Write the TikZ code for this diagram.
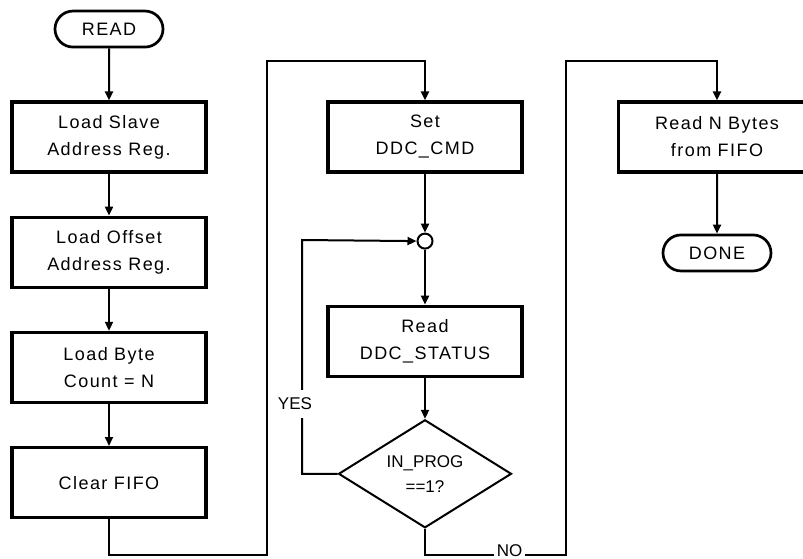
\documentclass[tikz,border=0pt]{standalone}
\usepackage{fontspec}
\newfontfamily\flowfont{Liberation Sans}[LetterSpace=8]
\newfontfamily\flowplain{Liberation Sans}
\usetikzlibrary{arrows.meta,positioning,shapes.geometric,shapes.misc}

\begin{document}
\begin{tikzpicture}[
  x=1pt, y=-1pt,
  stepbox/.style={draw, line width=3.2pt, align=center, inner sep=0pt, minimum width=194pt, minimum height=70pt, font=\flowfont\fontsize{18}{27}\selectfont},
  term/.style={draw, rounded rectangle, line width=2.7pt, inner sep=0pt, minimum width=108pt, minimum height=36pt, font=\flowfont\fontsize{18}{27}\selectfont},
  test/.style={draw, diamond, line width=2pt, aspect=1.6, inner sep=0pt, align=center, minimum width=173pt, minimum height=108pt, font=\flowplain\fontsize{17}{25}\selectfont},
  joint/.style={draw, circle, line width=2pt, inner sep=0pt, minimum size=15pt},
  lbl/.style={fill=white, inner xsep=3pt, inner ysep=0pt, font=\flowplain\fontsize{17}{20}\selectfont},
  arrow/.style={-{Triangle[length=9pt, width=8pt]}, line width=2pt}
]
\useasboundingbox (0,0) rectangle (803,559);
% left column
\node[stepbox] (slave) at (109,137) {Load Slave\\Address Reg.};
\node[term, above=52pt of slave] (read) {READ};
\node[stepbox, below=42pt of slave] (offset) {Load Offset\\Address Reg.};
\node[stepbox, below=42pt of offset] (count) {Load Byte\\Count = N};
\node[stepbox, below=42pt of count] (clear) {Clear FIFO};
% middle column
\node[stepbox] (setcmd) at (425,137) {Set\\DDC\_CMD};
\node[joint, below=59pt of setcmd] (join) {};
\node[stepbox, below=55pt of join] (status) {Read\\DDC\_STATUS};
\node[test, below=41pt of status] (inprog) {IN\_PROG\\==1?};
% right column
\node[stepbox, minimum width=197pt] (readn) at (717,137) {Read N Bytes\\from FIFO};
\node[term, below=60pt of readn] (done) {DONE};
% loop corners
\coordinate (lbot) at (267,555);
\coordinate (ltop) at (267,61);
\coordinate (ycorner) at (302,240);
\coordinate (rbot) at (566,555);
\coordinate (rtop) at (566,61);

\draw[arrow] (read) -- (slave);
\draw[arrow] (slave) -- (offset);
\draw[arrow] (offset) -- (count);
\draw[arrow] (count) -- (clear);
\draw[arrow] (clear.south) |- (lbot) -- (ltop) -| (setcmd.north);
\draw[arrow] (setcmd) -- (join);
\draw[arrow] (join) -- (status);
\draw[arrow] (status) -- (inprog);
\draw[arrow] (inprog.west) -| node[pos=0.65, lbl, inner ysep=8pt, xshift=-7pt] {YES} (ycorner) -- (join.west);
\draw[arrow] (inprog.south) |- node[pos=0.8, lbl, yshift=4pt] {NO} (rbot) -- (rtop) -| (readn.north);
\draw[arrow] (readn) -- (done);
\end{tikzpicture}
\end{document}
